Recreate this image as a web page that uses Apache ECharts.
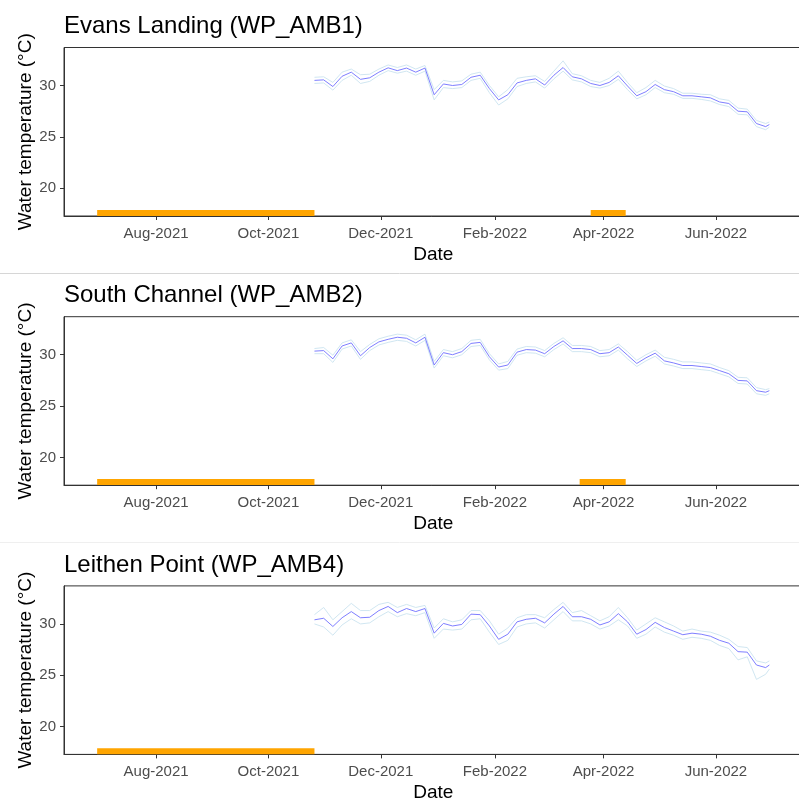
<!DOCTYPE html>
<html>
<head>
<meta charset="utf-8">
<script src="https://cdn.jsdelivr.net/npm/echarts@6/dist/echarts.min.js"></script>
<style>
  html, body { margin: 0; padding: 0; background: #fff; }
  #chart { width: 799px; height: 801px; }
</style>
</head>
<body>
<div id="chart"></div>
<script>
  // dates of the daily series (read every 5 days)
  const dates = ['2021-10-26','2021-10-31','2021-11-05','2021-11-10','2021-11-15','2021-11-20','2021-11-25','2021-11-30',
    '2021-12-05','2021-12-10','2021-12-15','2021-12-20','2021-12-25','2021-12-30','2022-01-04','2022-01-09','2022-01-14',
    '2022-01-19','2022-01-24','2022-01-29','2022-02-03','2022-02-08','2022-02-13','2022-02-18','2022-02-23','2022-02-28',
    '2022-03-05','2022-03-10','2022-03-15','2022-03-20','2022-03-25','2022-03-30','2022-04-04','2022-04-09','2022-04-14',
    '2022-04-19','2022-04-24','2022-04-29','2022-05-04','2022-05-09','2022-05-14','2022-05-19','2022-05-24','2022-05-29',
    '2022-06-03','2022-06-08','2022-06-13','2022-06-18','2022-06-23','2022-06-28','2022-06-30']

  // Evans Landing (WP_AMB1)
  const evansMean = [30.5,30.55,29.9,30.9,31.3,30.6,30.75,31.3,31.72,31.45,31.7,31.3,31.7,29.1,30.15,30.0,30.1,
    30.8,31.0,29.7,28.6,29.1,30.25,30.5,30.65,30.05,31.0,31.75,30.85,30.65,30.2,30.0,30.3,30.95,29.95,
    29.0,29.4,30.1,29.6,29.4,29.0,29.0,28.9,28.8,28.4,28.25,27.5,27.44,26.3,26.0,26.2]
  const evansMax = [30.8,30.85,30.3,31.3,31.6,31.05,31.1,31.6,32.0,31.75,32.0,31.6,31.95,29.6,30.5,30.35,30.45,
    31.1,31.3,30.0,28.9,29.6,30.7,30.85,30.95,30.4,31.4,32.4,31.15,30.95,30.5,30.3,30.7,31.4,30.3,
    29.3,29.8,30.5,29.95,29.7,29.25,29.25,29.15,29.1,28.7,28.55,27.8,27.7,26.6,26.3,26.45]
  const evansMin = [30.2,30.25,29.55,30.5,31.0,30.2,30.4,31.0,31.45,31.2,31.4,31.0,31.4,28.6,29.8,29.7,29.8,
    30.5,30.7,29.3,28.1,28.7,29.9,30.2,30.35,29.75,30.65,31.4,30.55,30.35,29.9,29.75,30.0,30.6,29.6,
    28.7,29.1,29.8,29.3,29.15,28.75,28.75,28.65,28.5,28.15,27.95,27.2,27.15,26.0,25.7,25.95]

  // South Channel (WP_AMB2)
  const southMean = [30.35,30.4,29.6,30.85,31.15,29.9,30.7,31.25,31.5,31.7,31.6,31.15,31.7,29.0,30.2,30.0,30.3,
    31.1,31.2,29.8,28.8,29.0,30.25,30.5,30.45,30.1,30.8,31.35,30.6,30.6,30.5,30.1,30.2,30.75,29.95,
    29.15,29.7,30.15,29.4,29.2,28.95,28.95,28.85,28.75,28.45,28.15,27.5,27.45,26.5,26.35,26.5]
  const southMax = [30.6,30.7,29.95,31.15,31.45,30.3,31.0,31.55,31.8,32.0,31.9,31.45,32.0,29.35,30.5,30.3,30.6,
    31.4,31.5,30.1,29.1,29.35,30.55,30.8,30.75,30.4,31.1,31.65,30.9,30.9,30.8,30.4,30.5,31.05,30.3,
    29.45,30.0,30.45,29.75,29.55,29.3,29.3,29.2,29.1,28.75,28.45,27.8,27.75,26.8,26.6,26.7]
  const southMin = [30.1,30.1,29.25,30.55,30.85,29.55,30.4,30.95,31.2,31.4,31.3,30.85,31.4,28.7,29.9,29.7,30.0,
    30.8,30.9,29.5,28.5,28.65,29.95,30.2,30.15,29.8,30.5,31.05,30.3,30.3,30.2,29.8,29.9,30.45,29.6,
    28.85,29.4,29.85,29.1,28.9,28.65,28.65,28.55,28.45,28.15,27.85,27.2,27.15,26.2,26.05,26.2]

  // Leithen Point (WP_AMB4)
  const leithenMean = [30.4,30.55,29.75,30.6,31.2,30.6,30.65,31.3,31.7,31.1,31.5,31.2,31.5,29.1,30.05,29.8,29.95,
    30.95,30.9,29.8,28.5,29.0,30.2,30.45,30.55,30.1,30.95,31.7,30.7,30.7,30.45,29.9,30.2,31.0,30.2,
    29.0,29.45,30.15,29.65,29.3,28.95,29.1,29.0,28.8,28.4,28.12,27.3,27.25,26.0,25.75,26.0]
  const leithenMax = [30.9,31.6,30.4,31.2,32.0,31.3,31.3,31.9,32.1,31.6,31.9,31.6,31.8,29.6,30.5,30.2,30.4,
    31.3,31.3,30.3,29.0,29.6,30.6,30.9,30.9,30.6,31.4,32.1,31.1,31.3,30.8,30.3,30.7,31.6,30.6,
    29.4,30.0,30.6,30.2,29.8,29.3,29.5,29.3,29.2,28.9,28.5,27.8,27.7,26.4,26.2,26.4]
  const leithenMin = [30.0,29.7,28.9,29.9,30.5,30.0,30.1,30.7,31.2,30.7,31.0,30.8,31.1,28.6,29.5,29.4,29.5,
    30.4,30.5,29.2,28.0,28.4,29.7,30.0,30.1,29.6,30.4,31.2,30.3,30.3,30.0,29.5,29.8,30.4,29.8,
    28.6,29.0,29.7,29.2,28.9,28.5,28.7,28.6,28.4,27.9,27.6,26.5,26.8,24.6,25.1,25.6]

  // periods marked in orange at the bottom of each panel
  const evansGaps = [['2021-06-30','2021-10-26'], ['2022-03-25','2022-04-13']]
  const southGaps = [['2021-06-30','2021-10-26'], ['2022-03-19','2022-04-13']]
  const leithenGaps = [['2021-06-30','2021-10-26']]
  const gapLevel = 17.6

  const tickDates = ['2021-08-01','2021-10-01','2021-12-01','2022-02-01','2022-04-01','2022-06-01']
  const tickLabels = ['Aug-2021','Oct-2021','Dec-2021','Feb-2022','Apr-2022','Jun-2022']
  const yTicks = [20, 25, 30]

  const panels = [
    { title: 'Evans Landing (WP_AMB1)', mean: evansMean, min: evansMin, max: evansMax, gaps: evansGaps },
    { title: 'South Channel (WP_AMB2)', mean: southMean, min: southMin, max: southMax, gaps: southGaps },
    { title: 'Leithen Point (WP_AMB4)', mean: leithenMean, min: leithenMin, max: leithenMax, gaps: leithenGaps }
  ]

  const font = 'Liberation Sans, Arial, sans-serif'
  // dates as day numbers so the axis can take custom tick positions
  const toDay = s => {
    const p = s.split('-')
    return Math.round(Date.UTC(+p[0], +p[1] - 1, +p[2]) / 86400000)
  }
  const tickDays = tickDates.map(toDay)
  const pair = arr => dates.map((d, i) => [toDay(d), arr[i]])

  const panelH = 269.2
  const chart = echarts.init(document.getElementById('chart'))

  const title = [], grid = [], xAxis = [], yAxis = [], series = []
  panels.forEach((p, i) => {
    const off = i * panelH
    title.push({
      text: p.title, left: 64, top: 14.5 + off, padding: 0,
      textStyle: { fontFamily: font, fontSize: 24, fontWeight: 'normal', color: '#000' }
    })
    // the plot box runs a few pixels past the right edge, as in the original
    grid.push({
      left: 64, width: 738.5, top: 47.5 + off, height: 168.5,
      outerBoundsMode: 'none',
      show: true, borderColor: '#333', borderWidth: 1, backgroundColor: '#fff'
    })
    xAxis.push({
      type: 'value', gridIndex: i,
      min: toDay('2021-06-12'), max: toDay('2022-07-18'),
      name: 'Date', nameLocation: 'middle', nameGap: 29, nameMoveOverlap: false,
      nameTextStyle: { fontFamily: font, fontSize: 19, color: '#000' },
      axisLine: { show: true, lineStyle: { color: '#333', width: 1 } },
      axisTick: { show: true, customValues: tickDays, length: 4, lineStyle: { color: '#333' } },
      axisLabel: {
        customValues: tickDays, margin: 10,
        formatter: v => tickLabels[tickDays.indexOf(v)] || '',
        fontFamily: font, fontSize: 15, color: '#4d4d4d'
      },
      splitLine: { show: false }
    })
    yAxis.push({
      type: 'value', gridIndex: i, min: 17.3, max: 33.7,
      name: 'Water temperature (°C)', nameLocation: 'middle', nameGap: 29, nameMoveOverlap: false,
      nameTextStyle: { fontFamily: font, fontSize: 19, color: '#000' },
      axisLine: { show: true, lineStyle: { color: '#333', width: 1 } },
      axisTick: { show: true, customValues: yTicks, length: 4, lineStyle: { color: '#333' } },
      axisLabel: { customValues: yTicks, margin: 8, fontFamily: font, fontSize: 15, color: '#4d4d4d' },
      splitLine: { show: false }
    })
    const lineBase = { type: 'line', xAxisIndex: i, yAxisIndex: i, showSymbol: false, silent: true, animation: false }
    series.push({ ...lineBase, data: pair(p.min), lineStyle: { color: '#cbe3ef', width: 0.9 } })
    series.push({ ...lineBase, data: pair(p.max), lineStyle: { color: '#cbe3ef', width: 0.9 } })
    series.push({ ...lineBase, data: pair(p.mean), lineStyle: { color: '#6f6fff', width: 0.9 } })
    p.gaps.forEach(g => {
      series.push({
        ...lineBase,
        data: g.map(d => [toDay(d), gapLevel]),
        lineStyle: { color: '#ffa500', width: 6, cap: 'butt' }
      })
    })
  })

  chart.setOption({
    animation: false,
    backgroundColor: '#fff',
    title, grid, xAxis, yAxis, series,
    graphic: [
      { type: 'line', shape: { x1: 0, y1: 273.5, x2: 799, y2: 273.5 }, style: { stroke: '#d6d6d6', lineWidth: 1 } },
      { type: 'line', shape: { x1: 0, y1: 542.5, x2: 799, y2: 542.5 }, style: { stroke: '#efefef', lineWidth: 1 } }
    ]
  })
</script>
</body>
</html>
